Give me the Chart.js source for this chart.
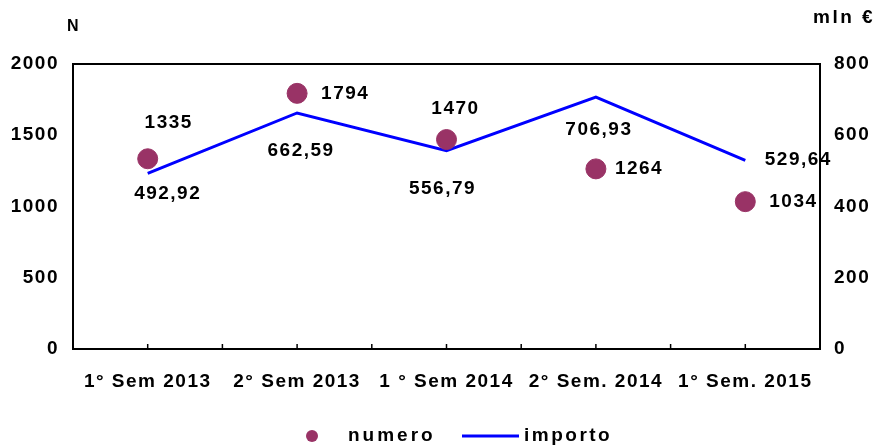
<!DOCTYPE html>
<html>
<head>
<meta charset="utf-8">
<script src="https://cdn.jsdelivr.net/npm/chart.js@4/dist/chart.umd.min.js"></script>
<style>
  html, body { margin: 0; padding: 0; background: #fff; }
  #wrap { width: 877px; height: 448px; }
</style>
</head>
<body>
<div id="wrap"><canvas id="grafico"></canvas></div>
<script>
// dati
const categorie = ["1° Sem 2013", "2° Sem 2013", "1 ° Sem 2014", "2° Sem. 2014", "1° Sem. 2015"];
const numero = [1335, 1794, 1470, 1264, 1034];
const importo = [492.92, 662.59, 556.79, 706.93, 529.64];
const tickSinistra = [0, 500, 1000, 1500, 2000];
const tickDestra = [0, 200, 400, 600, 800];

const FAMIGLIA = '"Liberation Sans", Arial, sans-serif';
const FONT = 'bold 19px ' + FAMIGLIA;
const VIOLA = '#993366';
const BLU = '#0000ff';

// spostamenti delle etichette (solo stile)
const offNumero = [[21, -36, 'center'], [24, 0, 'left'], [9, -31, 'center'], [19, 0, 'left'], [24, 0, 'left']];
const offImporto = [[20, 20], [4, 38], [-4, 38], [3, 33], [53, -1]];

function fmt(v) {
    return v.toFixed(2).replace('.', ',');
}

const spaziatura = {
    id: 'spaziatura',
    beforeInit(chart) {
        chart.ctx.letterSpacing = '1.5px';
    },
    beforeDraw(chart) {
        chart.ctx.letterSpacing = '1.5px';
    }
};

const decorazioni = {
    id: 'decorazioni',
    afterDatasetsDraw(chart) {
        const ctx = chart.ctx;
        const area = chart.chartArea;
        const x = chart.scales.x;
        ctx.save();
        // bordo superiore
        ctx.strokeStyle = '#000';
        ctx.lineWidth = 2;
        ctx.beginPath();
        ctx.moveTo(area.left, area.top);
        ctx.lineTo(area.right, area.top);
        ctx.stroke();
        // tacche asse x
        ctx.lineWidth = 1.5;
        for (let i = 1; i < categorie.length * 2; i++) {
            var px = x.getPixelForValue(i / 2 - 0.5);
            ctx.beginPath();
            ctx.moveTo(px, area.bottom);
            ctx.lineTo(px, area.bottom - 5);
            ctx.stroke();
        }
        // etichette
        ctx.letterSpacing = '1.5px';
        ctx.font = FONT;
        ctx.fillStyle = '#000';
        ctx.textBaseline = 'middle';
        const m0 = chart.getDatasetMeta(0);
        m0.data.forEach((p, i) => {
            ctx.textAlign = offNumero[i][2];
            ctx.fillText(String(numero[i]), p.x + offNumero[i][0], p.y + offNumero[i][1]);
        });
        const m1 = chart.getDatasetMeta(1);
        m1.data.forEach((p, i) => {
            ctx.textAlign = 'center';
            ctx.fillText(fmt(importo[i]), p.x + offImporto[i][0], p.y + offImporto[i][1]);
        });
        // titoli assi
        ctx.textAlign = 'left';
        ctx.font = 'bold 16px ' + FAMIGLIA;
        ctx.fillText('N', 67, 27);
        ctx.font = FONT;
        ctx.letterSpacing = '2.5px';
        ctx.fillText('mln €', 813, 18);
        // legenda
        const ly = 436;
        ctx.fillStyle = VIOLA;
        ctx.beginPath();
        ctx.arc(312, ly, 6, 0, Math.PI * 2);
        ctx.fill();
        ctx.fillStyle = '#000';
        ctx.letterSpacing = '3px';
        ctx.fillText('numero', 348, ly);
        ctx.strokeStyle = BLU;
        ctx.lineWidth = 3;
        ctx.beginPath();
        ctx.moveTo(462, ly);
        ctx.lineTo(519, ly);
        ctx.stroke();
        ctx.letterSpacing = '2.5px';
        ctx.fillText('importo', 524, ly);
        ctx.restore();
    }
};

const fontTick = {family: FAMIGLIA, size: 19, weight: 'bold'};

new Chart(document.getElementById('grafico'), {
    type: 'line',
    data: {
        labels: categorie,
        datasets: [{
                label: 'numero',
                data: numero,
                yAxisID: 'y',
                showLine: false,
                pointRadius: 10,
                pointHoverRadius: 10,
                pointBackgroundColor: VIOLA,
                pointBorderColor: VIOLA,
                order: 1
            }, {
                label: 'importo',
                data: importo,
                yAxisID: 'y1',
                borderColor: BLU,
                borderWidth: 3,
                pointRadius: 0,
                tension: 0,
                order: 2
            }]
    },
    options: {
        responsive: true,
        maintainAspectRatio: false,
        animation: false,
        events: [],
        layout: {
            padding: {top: 64, left: 0, right: 0, bottom: 0}
        },
        scales: {
            x: {
                offset: true,
                grid: {display: false, drawTicks: false},
                border: {color: '#000', width: 2},
                ticks: {color: '#000', font: fontTick, padding: 21, maxRotation: 0, autoSkip: false},
                afterFit: function (s) { s.height = 99; }
            },
            y: {
                position: 'left',
                min: 0,
                max: 2000,
                afterBuildTicks: function (s) { s.ticks = tickSinistra.map(v => ({value: v})); },
                grid: {display: false, drawTicks: false},
                border: {color: '#000', width: 2},
                ticks: {color: '#000', font: fontTick, padding: 14, callback: v => String(v)},
                afterFit: function (s) { s.width = 73; }
            },
            y1: {
                position: 'right',
                min: 0,
                max: 800,
                afterBuildTicks: function (s) { s.ticks = tickDestra.map(v => ({value: v})); },
                grid: {display: false, drawTicks: false},
                border: {color: '#000', width: 2, dash: [4, 2]},
                ticks: {color: '#000', font: fontTick, padding: 14, callback: v => String(v)},
                afterFit: function (s) { s.width = 57; }
            }
        },
        plugins: {
            legend: {display: false},
            tooltip: {enabled: false}
        }
    },
    plugins: [spaziatura, decorazioni]
});
</script>
</body>
</html>
